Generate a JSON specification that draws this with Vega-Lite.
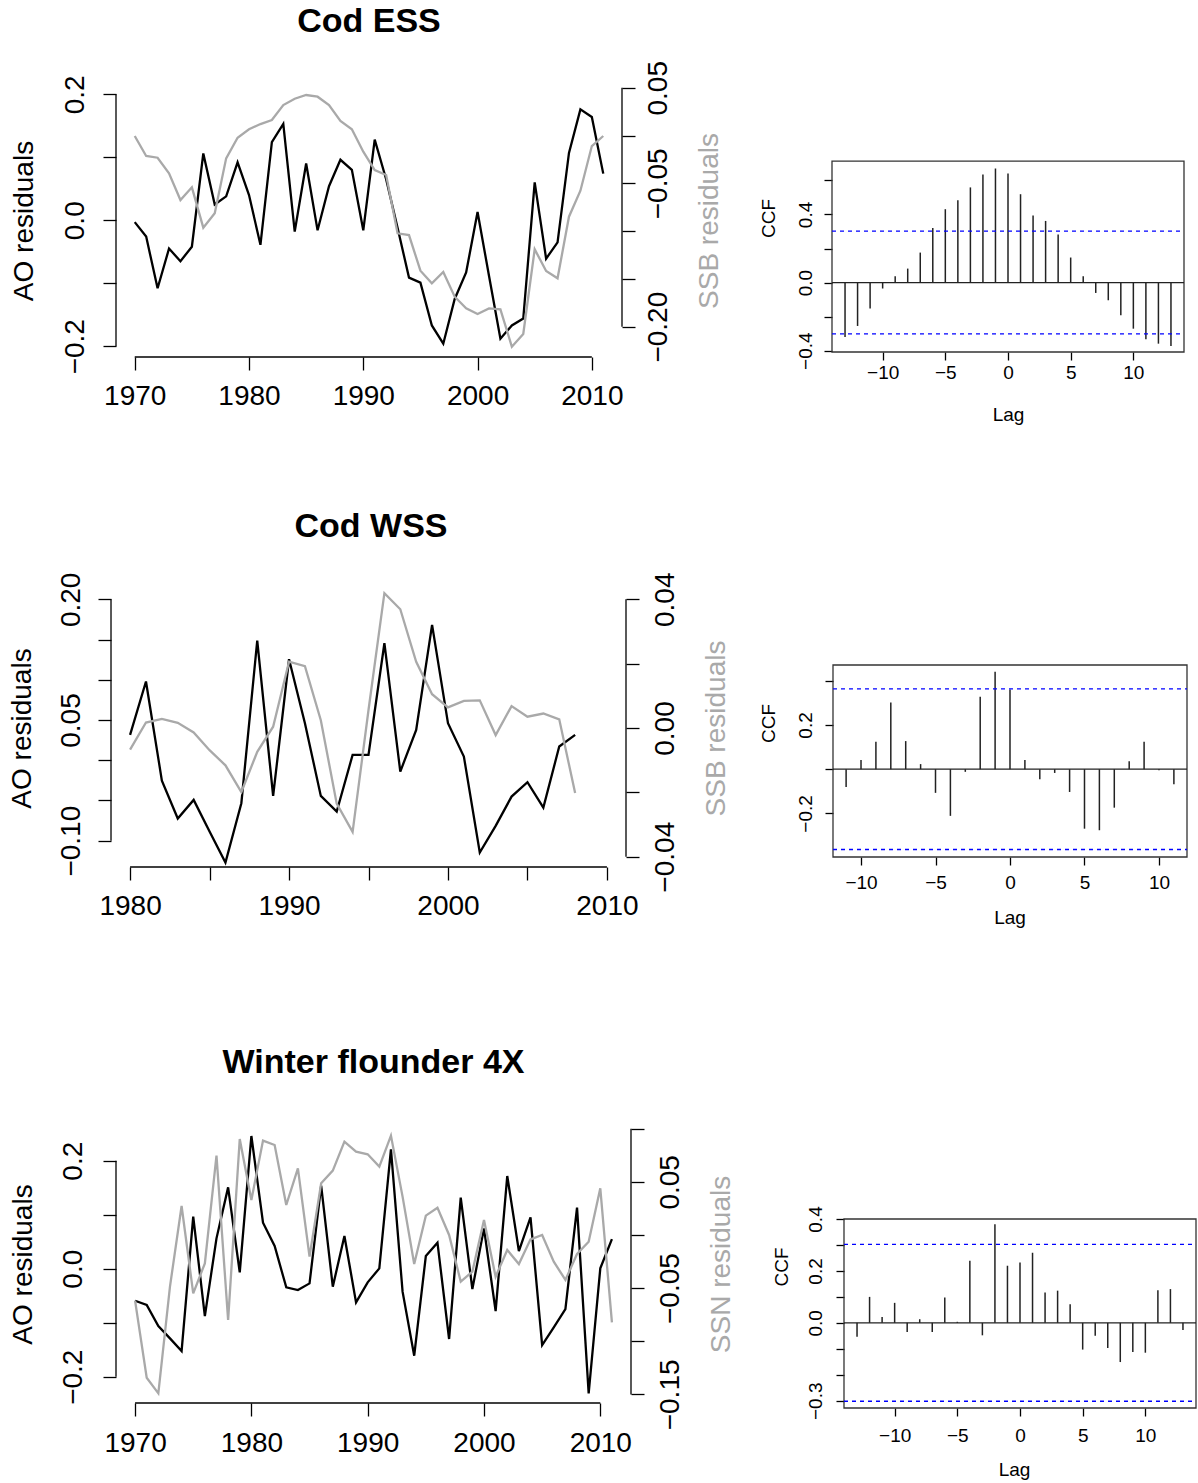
{
  "$schema": "https://vega.github.io/schema/vega-lite/v6.json",
  "padding": 0,
  "autosize": {"type": "pad"},
  "background": "white",
  "config": {
    "view": {"stroke": null},
    "font": "Liberation Sans",
    "axis": {"labelFont": "Liberation Sans", "titleFont": "Liberation Sans", "labelColor": "black", "titleColor": "black", "tickColor": "black", "domainColor": "black", "grid": false, "labelFlush": false, "labelOverlap": false, "labelBound": false, "titleFontWeight": "normal", "tickWidth": 1.3, "domain": false}
  },
  "datasets": {
    "ts1": [
      {"year": 1970, "ao": -0.003, "ssb": -0.0005}, {"year": 1971, "ao": -0.026, "ssb": -0.0214}, {"year": 1972, "ao": -0.108, "ssb": -0.0232}, {"year": 1973, "ao": -0.045, "ssb": -0.0396}, {"year": 1974, "ao": -0.065, "ssb": -0.0675}, {"year": 1975, "ao": -0.042, "ssb": -0.0542}, {"year": 1976, "ao": 0.106, "ssb": -0.0964}, {"year": 1977, "ao": 0.025, "ssb": -0.0814}, {"year": 1978, "ao": 0.038, "ssb": -0.0239}, {"year": 1979, "ao": 0.092, "ssb": -0.0023},
      {"year": 1980, "ao": 0.040, "ssb": 0.0065}, {"year": 1981, "ao": -0.039, "ssb": 0.0120}, {"year": 1982, "ao": 0.124, "ssb": 0.0162}, {"year": 1983, "ao": 0.153, "ssb": 0.0319}, {"year": 1984, "ao": -0.018, "ssb": 0.0385}, {"year": 1985, "ao": 0.090, "ssb": 0.0424}, {"year": 1986, "ao": -0.016, "ssb": 0.0406}, {"year": 1987, "ao": 0.054, "ssb": 0.0319}, {"year": 1988, "ao": 0.096, "ssb": 0.0152}, {"year": 1989, "ao": 0.080, "ssb": 0.0065},
      {"year": 1990, "ao": -0.016, "ssb": -0.0169}, {"year": 1991, "ao": 0.128, "ssb": -0.0361}, {"year": 1992, "ao": 0.065, "ssb": -0.0413}, {"year": 1993, "ao": -0.012, "ssb": -0.1023}, {"year": 1994, "ao": -0.091, "ssb": -0.1041}, {"year": 1995, "ao": -0.099, "ssb": -0.1414}, {"year": 1996, "ao": -0.167, "ssb": -0.1546}, {"year": 1997, "ao": -0.196, "ssb": -0.1428}, {"year": 1998, "ao": -0.125, "ssb": -0.1686}, {"year": 1999, "ao": -0.083, "ssb": -0.1808},
      {"year": 2000, "ao": 0.013, "ssb": -0.1867}, {"year": 2001, "ao": -0.088, "ssb": -0.1808}, {"year": 2002, "ao": -0.188, "ssb": -0.1818}, {"year": 2003, "ao": -0.167, "ssb": -0.2209}, {"year": 2004, "ao": -0.156, "ssb": -0.2076}, {"year": 2005, "ao": 0.060, "ssb": -0.1190}, {"year": 2006, "ao": -0.061, "ssb": -0.1417}, {"year": 2007, "ao": -0.035, "ssb": -0.1494}, {"year": 2008, "ao": 0.107, "ssb": -0.0849}, {"year": 2009, "ao": 0.176, "ssb": -0.0577},
      {"year": 2010, "ao": 0.164, "ssb": -0.0110}, {"year": 2011, "ao": 0.074, "ssb": -0.0005}
    ],
    "ts2": [
      {"year": 1980, "ao": 0.0315, "ssb": -0.0067}, {"year": 1981, "ao": 0.0978, "ssb": 0.0017}, {"year": 1982, "ao": -0.0253, "ssb": 0.0028}, {"year": 1983, "ao": -0.0725, "ssb": 0.0016}, {"year": 1984, "ao": -0.0493, "ssb": -0.0014}, {"year": 1985, "ao": -0.0886, "ssb": -0.0069}, {"year": 1986, "ao": -0.1272, "ssb": -0.0116}, {"year": 1987, "ao": -0.0534, "ssb": -0.0199}, {"year": 1988, "ao": 0.1487, "ssb": -0.0074}, {"year": 1989, "ao": -0.0443, "ssb": 0.0004},
      {"year": 1990, "ao": 0.1255, "ssb": 0.0206}, {"year": 1991, "ao": 0.0460, "ssb": 0.0192}, {"year": 1992, "ao": -0.0443, "ssb": 0.0024}, {"year": 1993, "ao": -0.0638, "ssb": -0.0235}, {"year": 1994, "ao": 0.0066, "ssb": -0.0323}, {"year": 1995, "ao": 0.0066, "ssb": 0.0056}, {"year": 1996, "ao": 0.1454, "ssb": 0.0419}, {"year": 1997, "ao": -0.0141, "ssb": 0.0369}, {"year": 1998, "ao": 0.0377, "ssb": 0.0206}, {"year": 1999, "ao": 0.1682, "ssb": 0.0105},
      {"year": 2000, "ao": 0.0460, "ssb": 0.0064}, {"year": 2001, "ao": 0.0046, "ssb": 0.0084}, {"year": 2002, "ao": -0.1147, "ssb": 0.0086}, {"year": 2003, "ao": -0.0816, "ssb": -0.0022}, {"year": 2004, "ao": -0.0452, "ssb": 0.0068}, {"year": 2005, "ao": -0.0273, "ssb": 0.0035}, {"year": 2006, "ao": -0.0588, "ssb": 0.0045}, {"year": 2007, "ao": 0.0170, "ssb": 0.0027}, {"year": 2008, "ao": 0.0315, "ssb": -0.0202}
    ],
    "ts3": [
      {"year": 1970, "ao": -0.0593, "ssn": -0.0618}, {"year": 1971, "ao": -0.0673, "ssn": -0.1343}, {"year": 1972, "ao": -0.1062, "ssn": -0.1490}, {"year": 1973, "ao": -0.1290, "ssn": -0.0486}, {"year": 1974, "ao": -0.1525, "ssn": 0.0273}, {"year": 1975, "ao": 0.0963, "ssn": -0.0549}, {"year": 1976, "ao": -0.0877, "ssn": -0.0267}, {"year": 1977, "ao": 0.0562, "ssn": 0.0747}, {"year": 1978, "ao": 0.1506, "ssn": -0.0800}, {"year": 1979, "ao": -0.0068, "ssn": 0.0903},
      {"year": 1980, "ao": 0.2457, "ssn": 0.0329}, {"year": 1981, "ao": 0.0852, "ssn": 0.0888}, {"year": 1982, "ao": 0.0420, "ssn": 0.0847}, {"year": 1983, "ao": -0.0346, "ssn": 0.0282}, {"year": 1984, "ao": -0.0395, "ssn": 0.0627}, {"year": 1985, "ao": -0.0272, "ssn": -0.0204}, {"year": 1986, "ao": 0.1537, "ssn": 0.0486}, {"year": 1987, "ao": -0.0333, "ssn": 0.0606}, {"year": 1988, "ao": 0.0605, "ssn": 0.0878}, {"year": 1989, "ao": -0.0623, "ssn": 0.0784},
      {"year": 1990, "ao": -0.0253, "ssn": 0.0759}, {"year": 1991, "ao": 0.0006, "ssn": 0.0643}, {"year": 1992, "ao": 0.2210, "ssn": 0.0935}, {"year": 1993, "ao": -0.0426, "ssn": 0.0361}, {"year": 1994, "ao": -0.1611, "ssn": -0.0273}, {"year": 1995, "ao": 0.0235, "ssn": 0.0182}, {"year": 1996, "ao": 0.0481, "ssn": 0.0257}, {"year": 1997, "ao": -0.1302, "ssn": 0.0000}, {"year": 1998, "ao": 0.1315, "ssn": -0.0439}, {"year": 1999, "ao": -0.0377, "ssn": -0.0345},
      {"year": 2000, "ao": 0.0747, "ssn": 0.0141}, {"year": 2001, "ao": -0.0784, "ssn": -0.0392}, {"year": 2002, "ao": 0.1716, "ssn": -0.0141}, {"year": 2003, "ao": 0.0327, "ssn": -0.0273}, {"year": 2004, "ao": 0.0951, "ssn": -0.0041}, {"year": 2005, "ao": -0.1414, "ssn": 0.0000}, {"year": 2006, "ao": -0.1086, "ssn": -0.0251}, {"year": 2007, "ao": -0.0747, "ssn": -0.0423}, {"year": 2008, "ao": 0.1130, "ssn": -0.0179}, {"year": 2009, "ao": -0.2309, "ssn": -0.0063},
      {"year": 2010, "ao": 0.0006, "ssn": 0.0439}, {"year": 2011, "ao": 0.0549, "ssn": -0.0822}
    ],
    "ccf1": [
      {"lag": -13, "ccf": -0.320}, {"lag": -12, "ccf": -0.255}, {"lag": -11, "ccf": -0.153}, {"lag": -10, "ccf": -0.035}, {"lag": -9, "ccf": 0.037}, {"lag": -8, "ccf": 0.082}, {"lag": -7, "ccf": 0.176}, {"lag": -6, "ccf": 0.321}, {"lag": -5, "ccf": 0.431}, {"lag": -4, "ccf": 0.484}, {"lag": -3, "ccf": 0.559}, {"lag": -2, "ccf": 0.635}, {"lag": -1, "ccf": 0.670},
      {"lag": 0, "ccf": 0.641}, {"lag": 1, "ccf": 0.519}, {"lag": 2, "ccf": 0.394}, {"lag": 3, "ccf": 0.362}, {"lag": 4, "ccf": 0.282}, {"lag": 5, "ccf": 0.147}, {"lag": 6, "ccf": 0.037}, {"lag": 7, "ccf": -0.061}, {"lag": 8, "ccf": -0.104}, {"lag": 9, "ccf": -0.192}, {"lag": 10, "ccf": -0.271}, {"lag": 11, "ccf": -0.333}, {"lag": 12, "ccf": -0.359}, {"lag": 13, "ccf": -0.373}
    ],
    "ccf2": [
      {"lag": -11, "ccf": -0.080}, {"lag": -10, "ccf": 0.041}, {"lag": -9, "ccf": 0.124}, {"lag": -8, "ccf": 0.301}, {"lag": -7, "ccf": 0.127}, {"lag": -6, "ccf": 0.023}, {"lag": -5, "ccf": -0.107}, {"lag": -4, "ccf": -0.211}, {"lag": -3, "ccf": -0.012}, {"lag": -2, "ccf": 0.328}, {"lag": -1, "ccf": 0.441},
      {"lag": 0, "ccf": 0.360}, {"lag": 1, "ccf": 0.041}, {"lag": 2, "ccf": -0.045}, {"lag": 3, "ccf": -0.017}, {"lag": 4, "ccf": -0.103}, {"lag": 5, "ccf": -0.269}, {"lag": 6, "ccf": -0.276}, {"lag": 7, "ccf": -0.174}, {"lag": 8, "ccf": 0.036}, {"lag": 9, "ccf": 0.124}, {"lag": 10, "ccf": -0.005}, {"lag": 11, "ccf": -0.068}
    ],
    "ccf3": [
      {"lag": -13, "ccf": -0.054}, {"lag": -12, "ccf": 0.100}, {"lag": -11, "ccf": 0.023}, {"lag": -10, "ccf": 0.077}, {"lag": -9, "ccf": -0.035}, {"lag": -8, "ccf": 0.014}, {"lag": -7, "ccf": -0.035}, {"lag": -6, "ccf": 0.098}, {"lag": -5, "ccf": 0.004}, {"lag": -4, "ccf": 0.239}, {"lag": -3, "ccf": -0.048}, {"lag": -2, "ccf": 0.380}, {"lag": -1, "ccf": 0.220},
      {"lag": 0, "ccf": 0.232}, {"lag": 1, "ccf": 0.270}, {"lag": 2, "ccf": 0.117}, {"lag": 3, "ccf": 0.124}, {"lag": 4, "ccf": 0.072}, {"lag": 5, "ccf": -0.103}, {"lag": 6, "ccf": -0.050}, {"lag": 7, "ccf": -0.097}, {"lag": 8, "ccf": -0.151}, {"lag": 9, "ccf": -0.112}, {"lag": 10, "ccf": -0.115}, {"lag": 11, "ccf": 0.126}, {"lag": 12, "ccf": 0.130}, {"lag": 13, "ccf": -0.028}
    ]
  },
  "columns": 4,
  "spacing": 0,
  "bounds": "flush",
  "align": "each",
  "concat": [
    {"width": 116, "height": 84, "data": {"values": []}, "mark": "point"},
    {"width": 1, "height": 1, "data": {"values": []}, "mark": "point"},
    {"width": 201, "height": 1, "data": {"values": []}, "mark": "point"},
    {"width": 1, "height": 1, "data": {"values": []}, "mark": "point"},

    {"width": 116, "height": 1, "data": {"values": []}, "mark": "point"},
    {
      "width": 506, "height": 273,
      "title": {"text": "Cod ESS", "fontSize": 34, "fontWeight": "bold", "font": "Liberation Sans", "anchor": "middle", "frame": "group", "offset": -6, "baseline": "alphabetic", "color": "black"},
      "layer": [
        {"layer": [
          {"data": {"name": "ts1"}, "mark": {"type": "line", "color": "black", "strokeWidth": 2.3},
           "encoding": {
             "x": {"field": "year", "type": "quantitative", "scale": {"domain": [1968.36, 2012.64], "nice": false, "zero": false},
                   "axis": {"values": [1970, 1980, 1990, 2000, 2010], "format": "d", "title": null, "tickSize": 13, "labelFontSize": 28, "labelBaseline": "alphabetic", "labelAlign": "center", "labelPadding": 34.5}},
             "y": {"field": "ao", "type": "quantitative", "scale": {"domain": [-0.2171, 0.2163], "nice": false, "zero": false},
                   "axis": {"orient": "left", "values": [-0.2, -0.1, 0, 0.1, 0.2], "format": ".1f", "labelExpr": "indexof([-2,0,2], round(datum.value*10)) >= 0 ? datum.label : ''", "tickSize": 13, "labelFontSize": 28, "labelAngle": 270, "labelAlign": "center", "labelBaseline": "alphabetic", "labelPadding": 20, "title": "AO residuals", "titleFontSize": 28, "titleBaseline": "alphabetic", "titlePadding": 28.5}}
           }},
          {"data": {"values": [{}]}, "mark": {"type": "rule", "color": "black", "strokeWidth": 1.3},
           "encoding": {"x": {"datum": 1970, "type": "quantitative"}, "x2": {"datum": 2010}, "y": {"datum": -0.2171, "type": "quantitative"}}},
          {"data": {"values": [{}]}, "mark": {"type": "rule", "color": "black", "strokeWidth": 1.3},
           "encoding": {"x": {"datum": 1968.36, "type": "quantitative"}, "y": {"datum": -0.2, "type": "quantitative"}, "y2": {"datum": 0.2}}}
        ]},
        {"layer": [
          {"data": {"name": "ts1"}, "mark": {"type": "line", "color": "#a9a9a9", "strokeWidth": 2.3},
           "encoding": {
             "x": {"field": "year", "type": "quantitative"},
             "y": {"field": "ssb", "type": "quantitative", "scale": {"domain": [-0.2317, 0.0539], "nice": false, "zero": false},
                   "axis": {"orient": "right", "values": [-0.2, -0.15, -0.1, -0.05, 0, 0.05], "format": ".2f", "labelExpr": "indexof([-20,-5,5], round(datum.value*100)) >= 0 ? datum.label : ''", "tickSize": 13, "labelFontSize": 28, "labelAngle": 270, "labelAlign": "center", "labelBaseline": "alphabetic", "labelPadding": 31, "title": "SSB residuals", "titleFontSize": 28, "titleColor": "#a9a9a9", "titleAngle": 270, "titleBaseline": "alphabetic", "titlePadding": 45}}
           }},
          {"data": {"values": [{}]}, "mark": {"type": "rule", "color": "black", "strokeWidth": 1.3},
           "encoding": {"x": {"datum": 2012.64, "type": "quantitative"}, "y": {"datum": -0.2, "type": "quantitative"}, "y2": {"datum": 0.05}}}
        ]}
      ],
      "resolve": {"scale": {"y": "independent"}}
    },
    {"width": 201, "height": 1, "data": {"values": []}, "mark": "point"},
    {
      "width": 352, "height": 268,
      "layer": [
        {"data": {"name": "ccf1"}, "mark": {"type": "rule", "color": "#222222", "strokeWidth": 1.5},
         "encoding": {
           "x": {"field": "lag", "type": "quantitative", "scale": {"domain": [-14.04, 14.04], "nice": false, "zero": false},
                 "axis": {"values": [-10, -5, 0, 5, 10], "format": "d", "tickSize": 8, "labelFontSize": 19, "labelBaseline": "alphabetic", "labelAlign": "center", "labelPadding": 18.3, "title": "Lag", "titleFontSize": 19, "titleBaseline": "alphabetic", "titlePadding": 38}},
           "y": {"field": "ccf", "type": "quantitative", "scale": {"domain": [-0.408, 1.1665], "nice": false, "zero": false},
                 "axis": {"orient": "left", "values": [-0.4, -0.2, 0, 0.2, 0.4, 0.6], "format": ".1f", "labelExpr": "indexof([-4,0,4], round(datum.value*10)) >= 0 ? datum.label : ''", "tickSize": 8, "labelFontSize": 19, "labelAngle": 270, "labelAlign": "center", "labelBaseline": "alphabetic", "labelPadding": 12.5, "title": "CCF", "titleFontSize": 19, "titleBaseline": "alphabetic", "titlePadding": 22}},
           "y2": {"datum": 0}
         }},
        {"data": {"values": [{}]}, "mark": {"type": "rect", "fillOpacity": 0, "stroke": "#333333", "strokeWidth": 1.3},
         "encoding": {"x": {"datum": -14.04, "type": "quantitative"}, "x2": {"datum": 14.04}, "y": {"datum": -0.408, "type": "quantitative"}, "y2": {"datum": 0.7135}}},
        {"data": {"values": [{}]}, "mark": {"type": "rule", "color": "#222222", "strokeWidth": 1.3},
         "encoding": {"x": {"datum": -14.04, "type": "quantitative"}, "x2": {"datum": 14.04}, "y": {"datum": 0, "type": "quantitative"}}},
        {"data": {"values": [{"c": 0.302}, {"c": -0.302}]}, "mark": {"type": "rule", "color": "#0000ff", "strokeWidth": 1.3, "strokeDash": [4, 4]},
         "encoding": {"x": {"datum": -14.04, "type": "quantitative"}, "x2": {"datum": 14.04}, "y": {"field": "c", "type": "quantitative"}}}
      ]
    },

    {"width": 1, "height": 232, "data": {"values": []}, "mark": "point"},
    {"width": 1, "height": 1, "data": {"values": []}, "mark": "point"},
    {"width": 1, "height": 1, "data": {"values": []}, "mark": "point"},
    {"width": 1, "height": 1, "data": {"values": []}, "mark": "point"},

    {"width": 116, "height": 1, "data": {"values": []}, "mark": "point"},
    {
      "width": 510, "height": 278,
      "title": {"text": "Cod WSS", "fontSize": 34, "fontWeight": "bold", "font": "Liberation Sans", "anchor": "middle", "frame": "group", "offset": 1, "baseline": "alphabetic", "color": "black"},
      "layer": [
        {"layer": [
          {"data": {"name": "ts2"}, "mark": {"type": "line", "color": "black", "strokeWidth": 2.3},
           "encoding": {
             "x": {"field": "year", "type": "quantitative", "scale": {"domain": [1979.114, 2011.2], "nice": false, "zero": false},
                   "axis": {"values": [1980, 1985, 1990, 1995, 2000, 2005, 2010], "format": "d", "labelExpr": "datum.value % 10 == 0 ? datum.label : ''", "title": null, "tickSize": 13, "labelFontSize": 28, "labelBaseline": "alphabetic", "labelAlign": "center", "labelPadding": 34.5}},
             "y": {"field": "ao", "type": "quantitative", "scale": {"domain": [-0.1327, 0.2128], "nice": false, "zero": false},
                   "axis": {"orient": "left", "offset": 5, "values": [-0.1, -0.05, 0, 0.05, 0.1, 0.15, 0.2], "format": ".2f", "labelExpr": "indexof([-10,5,20], round(datum.value*100)) >= 0 ? datum.label : ''", "tickSize": 13, "labelFontSize": 28, "labelAngle": 270, "labelAlign": "center", "labelBaseline": "alphabetic", "labelPadding": 18.5, "title": "AO residuals", "titleFontSize": 28, "titleBaseline": "alphabetic", "titlePadding": 27.5}}
           }},
          {"data": {"values": [{}]}, "mark": {"type": "rule", "color": "black", "strokeWidth": 1.3},
           "encoding": {"x": {"datum": 1980, "type": "quantitative"}, "x2": {"datum": 2010}, "y": {"datum": -0.1327, "type": "quantitative"}}},
          {"data": {"values": [{}]}, "mark": {"type": "rule", "color": "black", "strokeWidth": 1.3},
           "encoding": {"x": {"datum": 1978.8, "type": "quantitative"}, "y": {"datum": -0.1, "type": "quantitative"}, "y2": {"datum": 0.2}}}
        ]},
        {"layer": [
          {"data": {"name": "ts2"}, "mark": {"type": "line", "color": "#a9a9a9", "strokeWidth": 2.3},
           "encoding": {
             "x": {"field": "year", "type": "quantitative"},
             "y": {"field": "ssb", "type": "quantitative", "scale": {"domain": [-0.0432, 0.0432], "nice": false, "zero": false},
                   "axis": {"orient": "right", "values": [-0.04, -0.02, 0, 0.02, 0.04], "format": ".2f", "labelExpr": "indexof([-4,0,4], round(datum.value*100)) >= 0 ? datum.label : ''", "tickSize": 13, "labelFontSize": 28, "labelAngle": 270, "labelAlign": "center", "labelBaseline": "alphabetic", "labelPadding": 34.5, "title": "SSB residuals", "titleFontSize": 28, "titleColor": "#a9a9a9", "titleAngle": 270, "titleBaseline": "alphabetic", "titlePadding": 45}}
           }},
          {"data": {"values": [{}]}, "mark": {"type": "rule", "color": "black", "strokeWidth": 1.3},
           "encoding": {"x": {"datum": 2011.2, "type": "quantitative"}, "y": {"datum": -0.04, "type": "quantitative"}, "y2": {"datum": 0.04}}}
        ]}
      ],
      "resolve": {"scale": {"y": "independent"}}
    },
    {"width": 201, "height": 1, "data": {"values": []}, "mark": "point"},
    {
      "width": 355, "height": 268,
      "layer": [
        {"data": {"name": "ccf2"}, "mark": {"type": "rule", "color": "#222222", "strokeWidth": 1.5},
         "encoding": {
           "x": {"field": "lag", "type": "quantitative", "scale": {"domain": [-11.947, 11.88], "nice": false, "zero": false},
                 "axis": {"values": [-10, -5, 0, 5, 10], "format": "d", "tickSize": 8, "labelFontSize": 19, "labelBaseline": "alphabetic", "labelAlign": "center", "labelPadding": 23.3, "title": "Lag", "titleFontSize": 19, "titleBaseline": "alphabetic", "titlePadding": 31.6}},
           "y": {"field": "ccf", "type": "quantitative", "scale": {"domain": [-0.397, 0.8146], "nice": false, "zero": false},
                 "axis": {"orient": "left", "offset": -1, "values": [-0.2, 0, 0.2, 0.4], "format": ".1f", "labelExpr": "indexof([-2,2], round(datum.value*10)) >= 0 ? datum.label : ''", "tickSize": 8, "labelFontSize": 19, "labelAngle": 270, "labelAlign": "center", "labelBaseline": "alphabetic", "labelPadding": 14, "title": "CCF", "titleFontSize": 19, "titleBaseline": "alphabetic", "titlePadding": 22}},
           "y2": {"datum": 0}
         }},
        {"data": {"values": [{}]}, "mark": {"type": "rect", "fillOpacity": 0, "stroke": "#333333", "strokeWidth": 1.3},
         "encoding": {"x": {"datum": -11.88, "type": "quantitative"}, "x2": {"datum": 11.88}, "y": {"datum": -0.397, "type": "quantitative"}, "y2": {"datum": 0.471}}},
        {"data": {"values": [{}]}, "mark": {"type": "rule", "color": "#222222", "strokeWidth": 1.3},
         "encoding": {"x": {"datum": -11.88, "type": "quantitative"}, "x2": {"datum": 11.88}, "y": {"datum": 0, "type": "quantitative"}}},
        {"data": {"values": [{"c": 0.363}, {"c": -0.363}]}, "mark": {"type": "rule", "color": "#0000ff", "strokeWidth": 1.3, "strokeDash": [4, 4]},
         "encoding": {"x": {"datum": -11.88, "type": "quantitative"}, "x2": {"datum": 11.88}, "y": {"field": "c", "type": "quantitative"}}}
      ]
    },

    {"width": 1, "height": 258, "data": {"values": []}, "mark": "point"},
    {"width": 1, "height": 1, "data": {"values": []}, "mark": "point"},
    {"width": 1, "height": 1, "data": {"values": []}, "mark": "point"},
    {"width": 1, "height": 1, "data": {"values": []}, "mark": "point"},

    {"width": 116, "height": 1, "data": {"values": []}, "mark": "point"},
    {
      "width": 515, "height": 278,
      "title": {"text": "Winter flounder 4X", "fontSize": 34, "fontWeight": "bold", "font": "Liberation Sans", "anchor": "middle", "frame": "group", "offset": 18, "baseline": "alphabetic", "color": "black"},
      "layer": [
        {"layer": [
          {"data": {"name": "ts3"}, "mark": {"type": "line", "color": "black", "strokeWidth": 2.3},
           "encoding": {
             "x": {"field": "year", "type": "quantitative", "scale": {"domain": [1968.36, 2012.64], "nice": false, "zero": false},
                   "axis": {"values": [1970, 1980, 1990, 2000, 2010], "format": "d", "title": null, "tickSize": 13, "labelFontSize": 28, "labelBaseline": "alphabetic", "labelAlign": "center", "labelPadding": 35}},
             "y": {"field": "ao", "type": "quantitative", "scale": {"domain": [-0.2487, 0.2661], "nice": false, "zero": false},
                   "axis": {"orient": "left", "values": [-0.2, -0.1, 0, 0.1, 0.2], "format": ".1f", "labelExpr": "indexof([-2,0,2], round(datum.value*10)) >= 0 ? datum.label : ''", "tickSize": 13, "labelFontSize": 28, "labelAngle": 270, "labelAlign": "center", "labelBaseline": "alphabetic", "labelPadding": 21.5, "title": "AO residuals", "titleFontSize": 28, "titleBaseline": "alphabetic", "titlePadding": 28.5}}
           }},
          {"data": {"values": [{}]}, "mark": {"type": "rule", "color": "black", "strokeWidth": 1.3},
           "encoding": {"x": {"datum": 1970, "type": "quantitative"}, "x2": {"datum": 2010}, "y": {"datum": -0.2487, "type": "quantitative"}}},
          {"data": {"values": [{}]}, "mark": {"type": "rule", "color": "black", "strokeWidth": 1.3},
           "encoding": {"x": {"datum": 1968.36, "type": "quantitative"}, "y": {"datum": -0.2, "type": "quantitative"}, "y2": {"datum": 0.2}}}
        ]},
        {"layer": [
          {"data": {"name": "ts3"}, "mark": {"type": "line", "color": "#a9a9a9", "strokeWidth": 2.3},
           "encoding": {
             "x": {"field": "year", "type": "quantitative"},
             "y": {"field": "ssn", "type": "quantitative", "scale": {"domain": [-0.1581, 0.1035], "nice": false, "zero": false},
                   "axis": {"orient": "right", "values": [-0.15, -0.1, -0.05, 0, 0.05, 0.1], "format": ".2f", "labelExpr": "indexof([-15,-5,5], round(datum.value*100)) >= 0 ? datum.label : ''", "tickSize": 13, "labelFontSize": 28, "labelAngle": 270, "labelAlign": "center", "labelBaseline": "alphabetic", "labelPadding": 34.5, "title": "SSN residuals", "titleFontSize": 28, "titleColor": "#a9a9a9", "titleAngle": 270, "titleBaseline": "alphabetic", "titlePadding": 45}}
           }},
          {"data": {"values": [{}]}, "mark": {"type": "rule", "color": "black", "strokeWidth": 1.3},
           "encoding": {"x": {"datum": 2012.64, "type": "quantitative"}, "y": {"datum": -0.15, "type": "quantitative"}, "y2": {"datum": 0.1}}}
        ]}
      ],
      "resolve": {"scale": {"y": "independent"}}
    },
    {"width": 201, "height": 1, "data": {"values": []}, "mark": "point"},
    {
      "width": 364, "height": 283,
      "layer": [
        {"data": {"name": "ccf3"}, "mark": {"type": "rule", "color": "#222222", "strokeWidth": 1.5},
         "encoding": {
           "x": {"field": "lag", "type": "quantitative", "scale": {"domain": [-14.997, 14.04], "nice": false, "zero": false},
                 "axis": {"values": [-10, -5, 0, 5, 10], "format": "d", "tickSize": 8, "labelFontSize": 19, "labelBaseline": "alphabetic", "labelAlign": "center", "labelPadding": 25.7, "title": "Lag", "titleFontSize": 19, "titleBaseline": "alphabetic", "titlePadding": 29.8}},
           "y": {"field": "ccf", "type": "quantitative", "scale": {"domain": [-0.328, 0.7621], "nice": false, "zero": false},
                 "axis": {"orient": "left", "offset": -12, "values": [-0.3, -0.2, -0.1, 0, 0.1, 0.2, 0.3, 0.4], "format": ".1f", "labelExpr": "indexof([-3,0,2,4], round(datum.value*10)) >= 0 ? datum.label : ''", "tickSize": 8, "labelFontSize": 19, "labelAngle": 270, "labelAlign": "center", "labelBaseline": "alphabetic", "labelPadding": 14.5, "title": "CCF", "titleFontSize": 19, "titleBaseline": "alphabetic", "titlePadding": 19}},
           "y2": {"datum": 0}
         }},
        {"data": {"values": [{}]}, "mark": {"type": "rect", "fillOpacity": 0, "stroke": "#333333", "strokeWidth": 1.3},
         "encoding": {"x": {"datum": -14.04, "type": "quantitative"}, "x2": {"datum": 14.04}, "y": {"datum": -0.328, "type": "quantitative"}, "y2": {"datum": 0.400}}},
        {"data": {"values": [{}]}, "mark": {"type": "rule", "color": "#222222", "strokeWidth": 1.3},
         "encoding": {"x": {"datum": -14.04, "type": "quantitative"}, "x2": {"datum": 14.04}, "y": {"datum": 0, "type": "quantitative"}}},
        {"data": {"values": [{"c": 0.302}, {"c": -0.302}]}, "mark": {"type": "rule", "color": "#0000ff", "strokeWidth": 1.3, "strokeDash": [4, 4]},
         "encoding": {"x": {"datum": -14.04, "type": "quantitative"}, "x2": {"datum": 14.04}, "y": {"field": "c", "type": "quantitative"}}}
      ]
    }
  ]
}
